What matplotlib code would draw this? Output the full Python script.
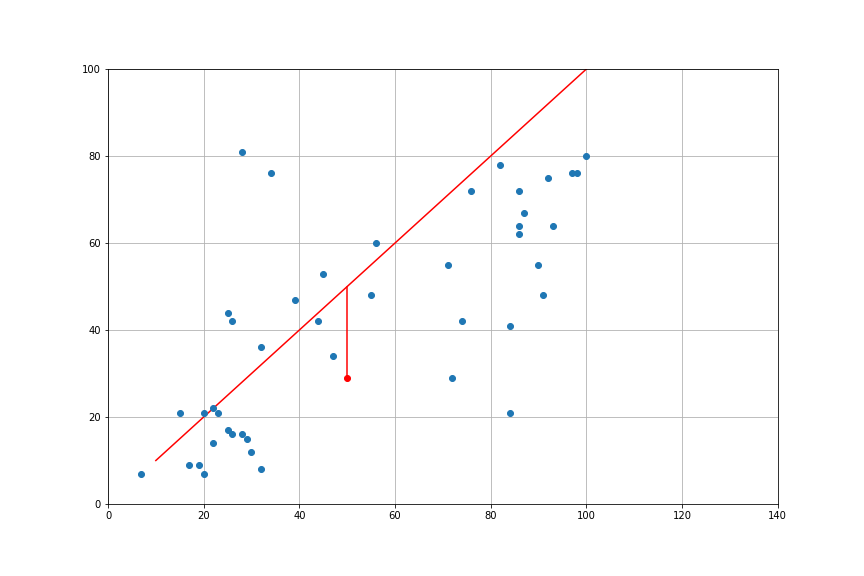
import matplotlib
matplotlib.use("Agg")
import matplotlib.pyplot as plt

xs = [7, 15, 17, 19, 20, 20, 22, 22, 23, 25, 25, 26, 26, 28, 28, 29, 30, 32, 32, 34,
      39, 44, 45, 47, 55, 56, 71, 72, 74, 76, 82, 84, 84, 86, 86, 86, 87, 90, 91, 92,
      93, 97, 98, 100]
ys = [7, 21, 9, 9, 7, 21, 22, 14, 21, 17, 44, 42, 16, 16, 81, 15, 12, 36, 8, 76,
      47, 42, 53, 34, 48, 60, 55, 29, 42, 72, 78, 41, 21, 72, 64, 62, 67, 55, 48, 75,
      64, 76, 76, 80]

line_x = [10, 100]
line_y = [10, 100]

query_x = 50
query_y = 29
proj_y = 50

fig, ax = plt.subplots(figsize=(12, 8), dpi=72)
fig.subplots_adjust(left=0.125, right=0.9, bottom=0.125, top=0.88)
ax.scatter(xs, ys, color="#1f77b4", zorder=3)
ax.plot(line_x, line_y, color="red")
ax.plot([query_x, query_x], [query_y, proj_y], color="red")
ax.scatter([query_x], [query_y], color="red", zorder=4)
ax.set_xlim(0, 140)
ax.set_ylim(0, 100)
ax.grid(True, color="#b0b0b0")
fig.savefig("out.png", dpi=72)
